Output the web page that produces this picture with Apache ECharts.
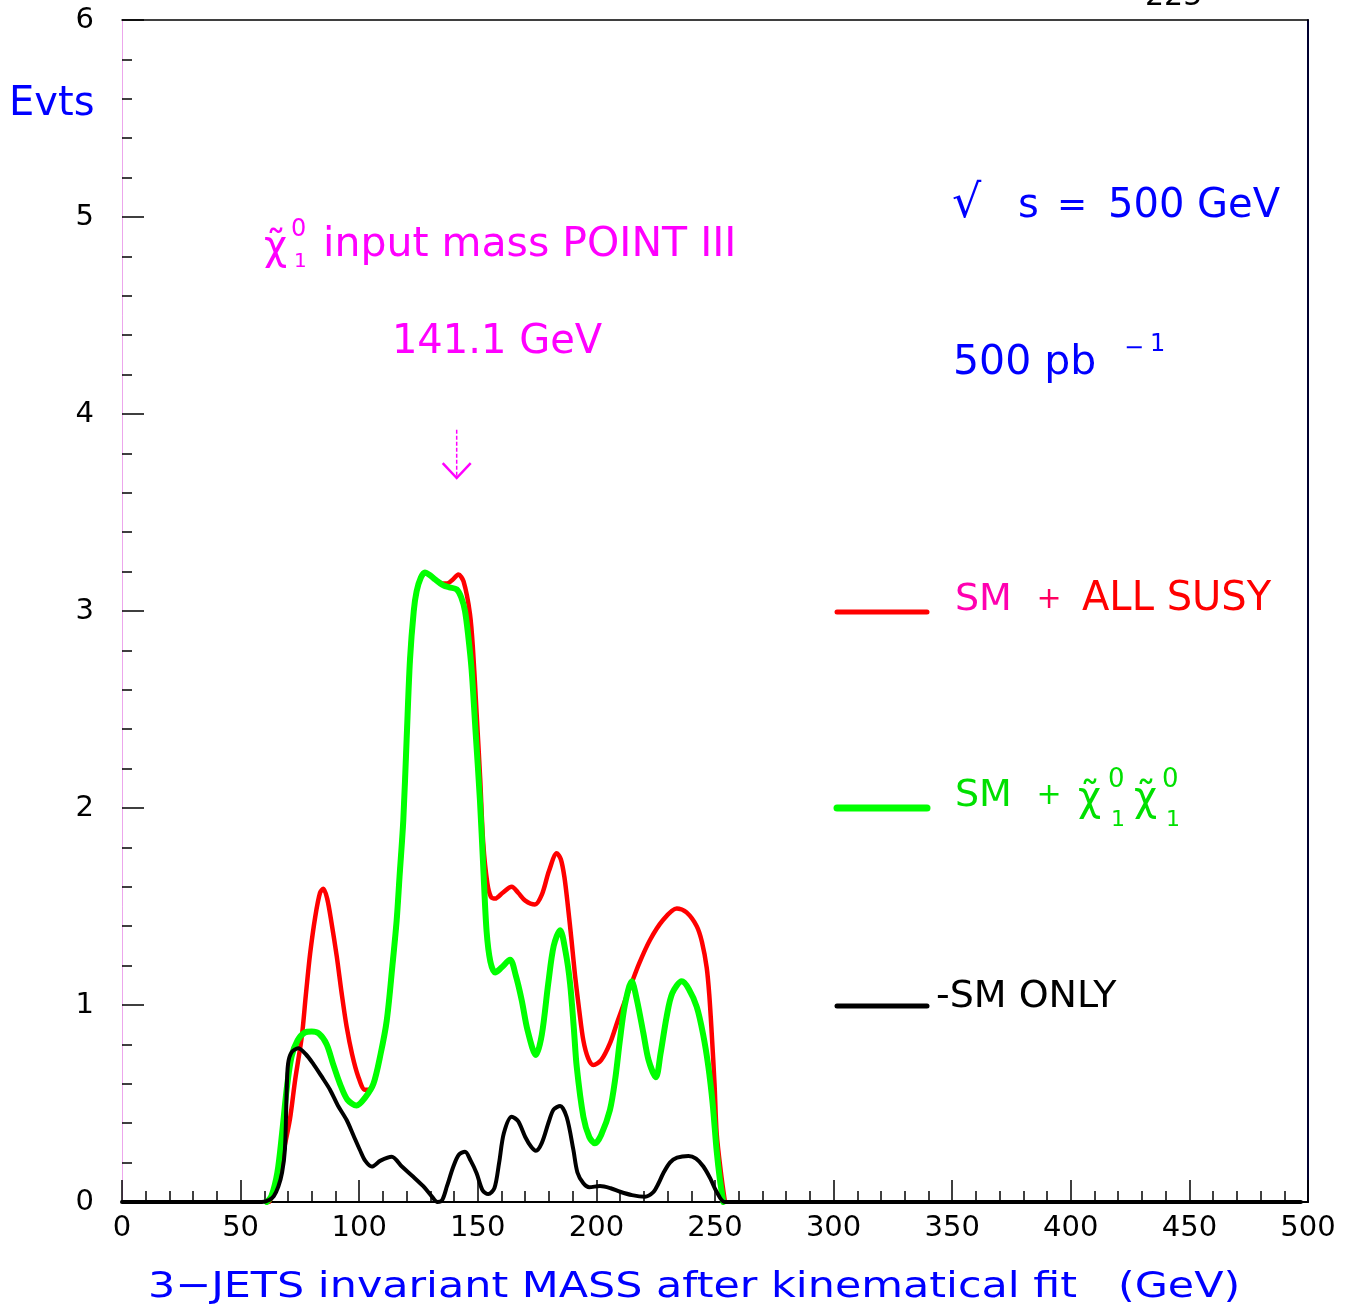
<!DOCTYPE html>
<html>
<head>
<meta charset="utf-8">
<title>3-jets invariant mass after kinematical fit</title>
<script src="https://cdn.jsdelivr.net/npm/echarts/dist/echarts.min.js"></script>
<style>
  html, body { margin: 0; padding: 0; background: #ffffff; }
  #chart { width: 1348px; height: 1315px; }
</style>
</head>
<body>
<div id="chart"></div>
<script>
// Events per mass bin, 3-jet invariant mass (GeV) after the kinematical fit
const massAll = [62, 64, 66, 68.5, 70.8, 73, 75.8, 77.5, 79.3, 81.5, 83.5, 84.9, 86.5, 88.3, 90.5, 92.6, 94.7, 97, 99.5,
  102.4, 104, 106, 109, 111.6, 114, 115.8, 117, 118.6, 120, 121.4, 123, 124.2, 126, 127.7, 130, 132, 135, 137, 139.5,
  141.8, 144, 146.7, 148, 149.5, 151, 152.3, 154, 155.5, 157.3, 160.5, 164.3, 167, 170, 174.1, 177, 180, 183.3, 185, 186.5,
  188, 189.5, 191, 192.8, 194.5, 196.5, 198.7, 202, 205.7, 209, 212, 214.2, 218, 222.6, 228, 233.9, 238, 242.3, 244.5, 246.5, 247.6,
  248.6, 249.8, 250.7, 252.5, 254.2];
const evtsAll = [0, 0.05, 0.12, 0.28, 0.42, 0.62, 0.84, 1.05, 1.26, 1.45, 1.57, 1.59, 1.54, 1.42, 1.25, 1.06, 0.89, 0.75, 0.64,
  0.57, 0.57, 0.60, 0.75, 0.92, 1.2, 1.43, 1.65, 1.94, 2.35, 2.75, 3.0, 3.10, 3.17, 3.195, 3.18, 3.16, 3.14, 3.14, 3.16,
  3.185, 3.15, 2.985, 2.8, 2.48, 2.15, 1.82, 1.62, 1.55, 1.54, 1.57, 1.60, 1.57, 1.53, 1.51, 1.56, 1.68, 1.77, 1.74, 1.65,
  1.50, 1.33, 1.15, 0.97, 0.82, 0.73, 0.695, 0.72, 0.805, 0.92, 1.02, 1.09, 1.21, 1.33, 1.43, 1.49, 1.47, 1.40, 1.32, 1.19, 1.05,
  0.86, 0.6, 0.35, 0.15, 0];

const massChi = [61, 63, 65.5, 67.5, 69.5, 71.5, 74, 77, 80, 83, 86.3, 89, 91.9, 95, 98.9, 102.5, 106, 109, 111.6,
  114, 115.8, 117, 118.6, 120, 121.4, 123, 124.2, 126, 127.7, 130, 132, 135.5, 138, 141.1, 143, 144.6, 146, 147.4, 149,
  150.9, 152.3, 153.7, 155.3, 157.3, 160, 163.6, 166, 168.5, 171, 174.5, 177, 179.7, 182, 184.7, 187, 188.9, 190.5, 191.7, 194.5,
  197, 199.4, 202, 205.7, 208, 209.9, 212, 214.9, 217, 219.8, 222, 225.1, 227, 229.6, 232, 236, 239, 242.3, 245, 247.2,
  249, 250.7, 252, 253.5];
const evtsChi = [0, 0.03, 0.15, 0.35, 0.58, 0.74, 0.82, 0.86, 0.865, 0.855, 0.80, 0.70, 0.60, 0.52, 0.49, 0.53, 0.60, 0.75, 0.92,
  1.2, 1.43, 1.65, 1.94, 2.35, 2.75, 3.0, 3.10, 3.17, 3.195, 3.18, 3.16, 3.13, 3.12, 3.11, 3.07, 3.00, 2.87, 2.70, 2.4,
  2.04, 1.7, 1.375, 1.22, 1.165, 1.19, 1.23, 1.15, 1.025, 0.87, 0.746, 0.85, 1.11, 1.30, 1.38, 1.27, 1.11, 0.88, 0.687, 0.433,
  0.33, 0.298, 0.34, 0.467, 0.63, 0.82, 1.0, 1.12, 1.03, 0.857, 0.72, 0.633, 0.75, 0.94, 1.06, 1.12, 1.08, 0.99, 0.85, 0.687,
  0.5, 0.26, 0.12, 0];

const massSM = [0, 59, 62, 64, 65.9, 67.5, 68.7, 69.4, 70, 71.5, 74.3, 77.5, 80.7, 84, 87.7, 91, 94.7, 97.5, 100.3, 102.5,
  105.3, 109, 113.7, 118, 122.8, 127, 130.5, 133, 135, 137, 139.7, 142, 144.6, 147, 149.5, 152, 154.4, 157, 159, 161,
  164.3, 167, 170, 172.5, 174.5, 177, 180, 182, 184.7, 187.5, 190.3, 192, 194.5, 197, 201.5, 206, 210, 215, 220.5, 224,
  226, 228.2, 231, 234, 238.8, 242, 245.1, 248, 250.7, 254.2, 497];
const evtsSM = [0, 0, 0.01, 0.03, 0.078, 0.15, 0.27, 0.55, 0.70, 0.76, 0.78, 0.75, 0.70, 0.64, 0.57, 0.49, 0.416, 0.34, 0.264, 0.21,
  0.18, 0.21, 0.23, 0.18, 0.128, 0.08, 0.03, 0, 0.01, 0.08, 0.18, 0.24, 0.255, 0.21, 0.146, 0.06, 0.04, 0.07, 0.2, 0.35,
  0.433, 0.41, 0.33, 0.28, 0.26, 0.3, 0.41, 0.47, 0.487, 0.43, 0.264, 0.15, 0.095, 0.075, 0.081, 0.07, 0.052, 0.035, 0.027, 0.05,
  0.09, 0.146, 0.2, 0.225, 0.234, 0.22, 0.18, 0.12, 0.052, 0, 0];

// Axis ranges and tick steps
const xRange = [0, 500];
const xStep = 50;
const yRange = [0, 6];
const yStep = 1;

// Neutralino input mass (GeV) marked with the arrow
const chiMass = 141.1;

const FONT = 'DejaVu Sans';
const BLUE = '#0000ff';
const MAGENTA = '#ff00ff';
const RED = '#ff0000';
const GREEN = '#00ff00';
const BLACK = '#000000';

const pairs = (xs, ys) => xs.map((x, i) => [x, ys[i]]);

const chart = echarts.init(document.getElementById('chart'), null, { renderer: 'canvas' });

function curve(name, xs, ys, color, width, z) {
  return {
    name, type: 'line', data: pairs(xs, ys),
    showSymbol: false, smooth: 0.3, z,
    lineStyle: { color, width, cap: 'round', join: 'round' },
    emphasis: { disabled: true },
    silent: true
  };
}

chart.setOption({
  animation: false,
  backgroundColor: '#ffffff',
  grid: { left: 122, right: 40, top: 20, bottom: 113, containLabel: false },
  xAxis: [
    {
      type: 'value', min: xRange[0], max: xRange[1], interval: xStep,
      axisLine: { show: true, onZero: false, lineStyle: { color: BLACK, width: 2 } },
      axisTick: { show: true, inside: true, length: 22, lineStyle: { color: BLACK, width: 1.5 } },
      minorTick: { show: true, splitNumber: 5, length: 11, lineStyle: { color: BLACK, width: 1.5 } },
      axisLabel: { fontFamily: FONT, fontSize: 29, color: BLACK, margin: 12 },
      splitLine: { show: false }
    },
    {
      type: 'value', position: 'top', min: xRange[0], max: xRange[1],
      axisLine: { show: true, onZero: false, lineStyle: { color: BLACK, width: 1.5 } },
      axisTick: { show: false }, axisLabel: { show: false }, splitLine: { show: false }
    }
  ],
  yAxis: [
    {
      type: 'value', min: yRange[0], max: yRange[1], interval: yStep,
      axisLine: { show: true, onZero: false, lineStyle: { color: 'rgba(200,0,200,0.35)', width: 1 } },
      axisTick: { show: true, inside: true, length: 22, lineStyle: { color: BLACK, width: 1.5 } },
      minorTick: { show: true, splitNumber: 5, length: 10, lineStyle: { color: BLACK, width: 1.5 } },
      axisLabel: { fontFamily: FONT, fontSize: 29, color: BLACK, margin: 28 },
      splitLine: { show: false }
    },
    {
      type: 'value', position: 'right', min: yRange[0], max: yRange[1],
      axisLine: { show: true, onZero: false, lineStyle: { color: '#000030', width: 2 } },
      axisTick: { show: false }, axisLabel: { show: false }, splitLine: { show: false }
    }
  ],
  series: [
    curve('SM + ALL SUSY', massAll, evtsAll, RED, 4.5, 2),
    curve('SM + χ̃₁⁰χ̃₁⁰', massChi, evtsChi, GREEN, 6, 3),
    curve('SM ONLY', massSM, evtsSM, BLACK, 4, 4)
  ]
});

function txt(x, y, text, size, color, opts) {
  const o = opts || {};
  return {
    type: 'text', x, y, silent: true, scaleX: o.sx || 1, z: 10,
    style: {
      text, fontFamily: FONT, fontSize: size, fill: color,
      align: o.align || 'left', verticalAlign: o.va || 'middle'
    }
  };
}
function hline(x1, x2, y, color, width) {
  return { type: 'line', silent: true, z: 10, shape: { x1, y1: y, x2, y2: y }, style: { stroke: color, lineWidth: width, lineCap: 'round' } };
}

// Arrow pointing down at the neutralino input mass
const arrowTop = chart.convertToPixel({ xAxisIndex: 0, yAxisIndex: 0 }, [chiMass, 3.92]);
const arrowTip = chart.convertToPixel({ xAxisIndex: 0, yAxisIndex: 0 }, [chiMass, 3.675]);

const graphics = [
  txt(1145, 12, '225', 30, BLACK, { va: 'bottom' }),
  txt(9, 105, 'Evts', 40, BLUE),

  // neutralino label
  txt(264, 249, 'χ̃', 40, MAGENTA),
  txt(291, 230, '0', 24, MAGENTA),
  txt(294, 262, '1', 20, MAGENTA),
  txt(323, 245, 'input mass POINT III', 41, MAGENTA),
  txt(497, 343, '141.1 GeV', 40, MAGENTA, { align: 'center' }),
  {
    type: 'line', silent: true, z: 10,
    shape: { x1: arrowTop[0], y1: arrowTop[1], x2: arrowTip[0], y2: arrowTip[1] },
    style: { stroke: MAGENTA, lineWidth: 1.5, lineDash: [4, 2] }
  },
  {
    type: 'polyline', silent: true, z: 10,
    shape: { points: [[arrowTip[0] - 14, arrowTip[1] - 15], [arrowTip[0], arrowTip[1]], [arrowTip[0] + 14, arrowTip[1] - 15]] },
    style: { stroke: MAGENTA, lineWidth: 2.5, fill: null }
  },

  // beam energy and luminosity
  txt(952, 205, '√', 46, BLUE),
  txt(1018, 207, 's', 40, BLUE),
  txt(1072, 207, '=', 36, BLUE, { align: 'center' }),
  txt(1108, 207, '500 GeV', 40, BLUE),
  txt(953, 363, '500 pb', 41, BLUE),
  txt(1124, 349, '−', 24, BLUE),
  txt(1150, 345, '1', 24, BLUE),

  // legend
  hline(837, 927, 612, RED, 5),
  txt(955, 600, 'SM', 38, '#ff00b0'),
  txt(1049, 600, '+', 30, '#ff0060', { align: 'center' }),
  txt(1082, 600, 'ALL SUSY', 40, RED),

  hline(837, 927, 808, GREEN, 7),
  txt(955, 796, 'SM', 38, '#00e000'),
  txt(1049, 796, '+', 30, '#00e000', { align: 'center' }),
  txt(1078, 800, 'χ̃', 40, '#00e000'),
  txt(1108, 780, '0', 26, '#00e000'),
  txt(1111, 820, '1', 22, '#00e000'),
  txt(1134, 800, 'χ̃', 40, '#00e000'),
  txt(1162, 780, '0', 26, '#00e000'),
  txt(1166, 820, '1', 22, '#00e000'),

  hline(837, 927, 1006, BLACK, 5),
  txt(936, 997, '-SM ONLY', 38, BLACK),

  // axis title
  txt(148, 1288, '3−JETS invariant MASS after kinematical fit   (GeV)', 36, BLUE, { sx: 1.19 })
];

chart.setOption({ graphic: graphics });
</script>
</body>
</html>
